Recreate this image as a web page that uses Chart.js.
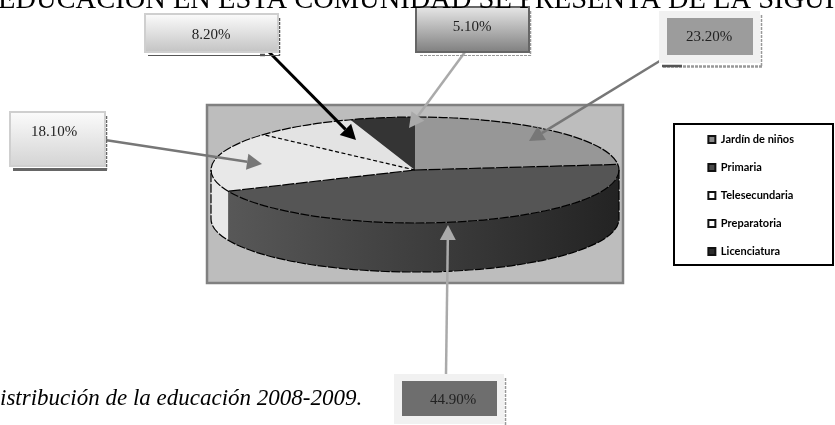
<!DOCTYPE html>
<html>
<head>
<meta charset="utf-8">
<title>Distribución de la educación 2008-2009</title>
<script src="https://cdn.jsdelivr.net/npm/chart.js@4/dist/chart.umd.min.js"></script>
<style>
	html, body { margin: 0; padding: 0; background: #fff; overflow: hidden; }
	canvas { display: block; }
</style>
</head>
<body>
<canvas id="grafico" width="835" height="425"></canvas>
<script>
// datos
var categorias = ['Jardín de niños', 'Primaria', 'Telesecundaria', 'Preparatoria', 'Licenciatura'];
var valores = [23.2, 44.9, 18.1, 8.2, 5.1];
var titulo = 'EDUCACIÓN EN ESTA COMUNIDAD SE PRESENTA DE LA SIGUIENTE';
var pie = 'istribución de la educación 2008-2009.';

var colores = ['#979797', '#555555', '#e8e8e8', '#e3e3e3', '#343434'];
var coloresLeyenda = ['#8a8a8a', '#4a4a4a', '#ffffff', '#ffffff', '#2c2c2c'];
var serif = '"Liberation Serif", serif';

// geometria del pastel aplastado
var pastel = { x: 415, y: 170, rx: 204, ry: 53, alto: 49 };
var fondo = { x: 207, y: 105, w: 416, h: 178 };
var marcoLeyenda = { x: 674, y: 124, w: 159, h: 141 };

// cajas de texto, en el mismo orden que categorias
var cajas = [
	{ x: 659, y: 11, w: 101, h: 52, margen: 8, relleno: ['#9c9c9c', '#9c9c9c'], borde: '#f1f1f1', tx: 709, ty: 37,
		sombra: '#999', base: [3, 1], grosor: 2.5, tramo: [662, 682], linea: '#777', ancho: 2.5, desde: [663, 59], hasta: [529, 141] },
	{ x: 394, y: 374, w: 110, h: 50, margen: 8, relleno: ['#6e6e6e', '#6e6e6e'], borde: '#f1f1f1', tx: 453, ty: 400,
		sombra: '#999', base: [3, 1], grosor: 1.5, linea: '#aaa', ancho: 2.5, desde: [446, 374], hasta: [448, 225] },
	{ x: 10, y: 112, w: 95, h: 54, margen: 0, relleno: ['#fbfbfb', '#d4d4d4'], borde: '#cfcfcf', tx: 54, ty: 132,
		sombra: '#666', base: [], grosor: 3, linea: '#777', ancho: 2.5, desde: [105, 140], hasta: [262, 164] },
	{ x: 145, y: 14, w: 133, h: 38, margen: 0, relleno: ['#fbfbfb', '#c4c4c4'], borde: '#cfcfcf', tx: 211, ty: 35,
		sombra: '#555', base: [], grosor: 1, tramo: [260, 265], linea: '#000', ancho: 3, desde: [269, 52], hasta: [356, 140] },
	{ x: 416, y: 7, w: 113, h: 45, margen: 0, relleno: ['#e6e6e6', '#808080'], borde: '#666666', tx: 472, ty: 27,
		sombra: '#999', base: [3, 1], grosor: 1, linea: '#aaa', ancho: 2.5, desde: [465, 52], hasta: [409, 128] }
];

function dibujarFlecha(ctx, c) {
	var ang = Math.atan2(c.hasta[1] - c.desde[1], c.hasta[0] - c.desde[0]);
	var largo = 15, medio = 8;
	var bx = c.hasta[0] - Math.cos(ang) * largo;
	var by = c.hasta[1] - Math.sin(ang) * largo;

	ctx.strokeStyle = c.linea;
	ctx.fillStyle = c.linea;
	ctx.lineWidth = c.ancho;
	ctx.setLineDash([]);
	ctx.beginPath();
	ctx.moveTo(c.desde[0], c.desde[1]);
	ctx.lineTo(bx, by);
	ctx.stroke();

	ctx.beginPath();
	ctx.moveTo(c.hasta[0], c.hasta[1]);
	ctx.lineTo(bx - Math.sin(ang) * medio, by + Math.cos(ang) * medio);
	ctx.lineTo(bx + Math.sin(ang) * medio, by - Math.cos(ang) * medio);
	ctx.closePath();
	ctx.fill();
}

function dibujarCaja(ctx, c, texto) {
	var grad;
	var yBase = c.y + c.h + 3.5;

	// sombra punteada a la derecha, y linea de abajo
	ctx.strokeStyle = c.sombra;
	ctx.lineWidth = 1.5;
	ctx.setLineDash([3, 1]);
	ctx.beginPath();
	ctx.moveTo(c.x + c.w + 1.5, c.y + 4);
	ctx.lineTo(c.x + c.w + 1.5, yBase);
	ctx.stroke();

	ctx.lineWidth = c.grosor;
	ctx.setLineDash(c.base);
	ctx.beginPath();
	ctx.moveTo(c.x + c.w + 2, yBase);
	ctx.lineTo(c.x + 3, yBase);
	ctx.stroke();
	ctx.setLineDash([]);

	if (c.tramo) {
		ctx.strokeStyle = '#555';
		ctx.lineWidth = 2.5;
		ctx.beginPath();
		ctx.moveTo(c.tramo[0], c.y + c.h + 3);
		ctx.lineTo(c.tramo[1], c.y + c.h + 3);
		ctx.stroke();
	}

	if (c.margen > 0) {
		ctx.fillStyle = c.borde;
		ctx.fillRect(c.x, c.y, c.w, c.h);
		ctx.fillStyle = c.relleno[0];
		ctx.fillRect(c.x + c.margen, c.y + c.margen - 1, c.w - c.margen * 2 + 1, c.h - c.margen * 2 + 1);
	} else {
		grad = ctx.createLinearGradient(0, c.y, 0, c.y + c.h);
		grad.addColorStop(0, c.relleno[0]);
		grad.addColorStop(1, c.relleno[1]);
		ctx.fillStyle = grad;
		ctx.fillRect(c.x, c.y, c.w, c.h);
		ctx.strokeStyle = c.borde;
		ctx.lineWidth = 2;
		ctx.strokeRect(c.x, c.y, c.w, c.h);
	}

	ctx.fillStyle = '#222';
	ctx.font = '15px ' + serif;
	ctx.textAlign = 'center';
	ctx.textBaseline = 'middle';
	ctx.fillText(texto, c.tx, c.ty);
}

// lo que Chart.js no trae: pared lateral, contornos, flechas y cajas
var pluginPastel3D = {
	id: 'pastel3d',
	beforeDraw: function(chart) {
		var ctx = chart.ctx;
		ctx.save();
		ctx.fillStyle = '#fff';
		ctx.fillRect(0, 0, chart.width, chart.height);

		ctx.fillStyle = '#bdbdbd';
		ctx.fillRect(fondo.x, fondo.y, fondo.w, fondo.h);
		ctx.strokeStyle = '#808080';
		ctx.lineWidth = 2.5;
		ctx.strokeRect(fondo.x, fondo.y, fondo.w, fondo.h);

		ctx.strokeStyle = '#000';
		ctx.lineWidth = 2;
		ctx.strokeRect(marcoLeyenda.x, marcoLeyenda.y, marcoLeyenda.w, marcoLeyenda.h);
		ctx.restore();
	},
	beforeDatasetsDraw: function(chart) {
		var ctx = chart.ctx;
		var arcos = chart.getDatasetMeta(0).data;
		var escala = arcos[0].outerRadius;

		ctx.save();
		// pared: solo la mitad de enfrente de cada rebanada
		arcos.forEach(function(arco, i) {
			var ini = Math.max(arco.startAngle, 0);
			var fin = Math.min(arco.endAngle, Math.PI);
			var grad;
			if (fin <= ini) return;

			ctx.beginPath();
			ctx.ellipse(pastel.x, pastel.y, pastel.rx, pastel.ry, 0, ini, fin);
			ctx.ellipse(pastel.x, pastel.y + pastel.alto, pastel.rx, pastel.ry, 0, fin, ini, true);
			ctx.closePath();
			if (i === 1) {
				grad = ctx.createLinearGradient(pastel.x - pastel.rx, 0, pastel.x + pastel.rx, 0);
				grad.addColorStop(0, '#5a5a5a');
				grad.addColorStop(1, '#232323');
				ctx.fillStyle = grad;
			} else {
				ctx.fillStyle = colores[i];
			}
			ctx.fill();
		});
		ctx.restore();

		// la tapa se dibuja con los arcos de Chart.js, aplastados a elipse
		ctx.save();
		ctx.translate(pastel.x, pastel.y);
		ctx.scale(pastel.rx / escala, pastel.ry / escala);
		ctx.translate(-arcos[0].x, -arcos[0].y);
	},
	afterDatasetsDraw: function(chart) {
		var ctx = chart.ctx;
		var arcos = chart.getDatasetMeta(0).data;
		ctx.restore();

		ctx.save();
		ctx.strokeStyle = '#000';
		ctx.lineWidth = 1.2;
		ctx.setLineDash([9, 1.5]);

		// contorno de tapa y pared
		ctx.beginPath();
		ctx.ellipse(pastel.x, pastel.y, pastel.rx, pastel.ry, 0, 0, Math.PI * 2);
		ctx.stroke();
		ctx.beginPath();
		ctx.moveTo(pastel.x + pastel.rx, pastel.y);
		ctx.lineTo(pastel.x + pastel.rx, pastel.y + pastel.alto);
		ctx.ellipse(pastel.x, pastel.y + pastel.alto, pastel.rx, pastel.ry, 0, 0, Math.PI);
		ctx.lineTo(pastel.x - pastel.rx, pastel.y);
		ctx.stroke();

		// lineas entre rebanadas
		[0, 1, 2].forEach(function(i) {
			var a = arcos[i].endAngle;
			ctx.setLineDash(i === 2 ? [4, 2.5] : [12, 1.5]);
			ctx.beginPath();
			ctx.moveTo(pastel.x, pastel.y);
			ctx.lineTo(pastel.x + Math.cos(a) * pastel.rx, pastel.y + Math.sin(a) * pastel.ry);
			ctx.stroke();
		});
		ctx.setLineDash([]);

		cajas.forEach(function(c) {
			dibujarFlecha(ctx, c);
		});
		cajas.forEach(function(c, i) {
			dibujarCaja(ctx, c, valores[i].toFixed(2) + '%');
		});

		ctx.fillStyle = '#000';
		ctx.textAlign = 'left';
		ctx.textBaseline = 'alphabetic';
		ctx.font = '28.5px ' + serif;
		ctx.fillText(titulo, -2, 8);
		ctx.font = 'italic 23px ' + serif;
		ctx.fillText(pie, 0, 405);
		ctx.restore();
	}
};

new Chart(document.getElementById('grafico').getContext('2d'), {
	type: 'pie',
	data: {
		labels: categorias,
		datasets: [{
			data: valores,
			backgroundColor: colores,
			borderWidth: 0,
			clip: false
		}]
	},
	options: {
		responsive: false,
		animation: false,
		layout: { padding: { right: 31, bottom: 34 } },
		plugins: {
			tooltip: { enabled: false },
			legend: {
				position: 'right',
				labels: {
					boxWidth: 7,
					boxHeight: 7,
					padding: 17,
					color: '#111',
					font: { family: 'Lato, "Open Sans", sans-serif', size: 11, weight: 'bold' },
					generateLabels: function() {
						return categorias.map(function(nombre, i) {
							return {
								text: nombre,
								fillStyle: coloresLeyenda[i],
								strokeStyle: '#111',
								lineWidth: 2,
								index: i
							};
						});
					}
				}
			}
		}
	},
	plugins: [pluginPastel3D]
});
</script>
</body>
</html>
